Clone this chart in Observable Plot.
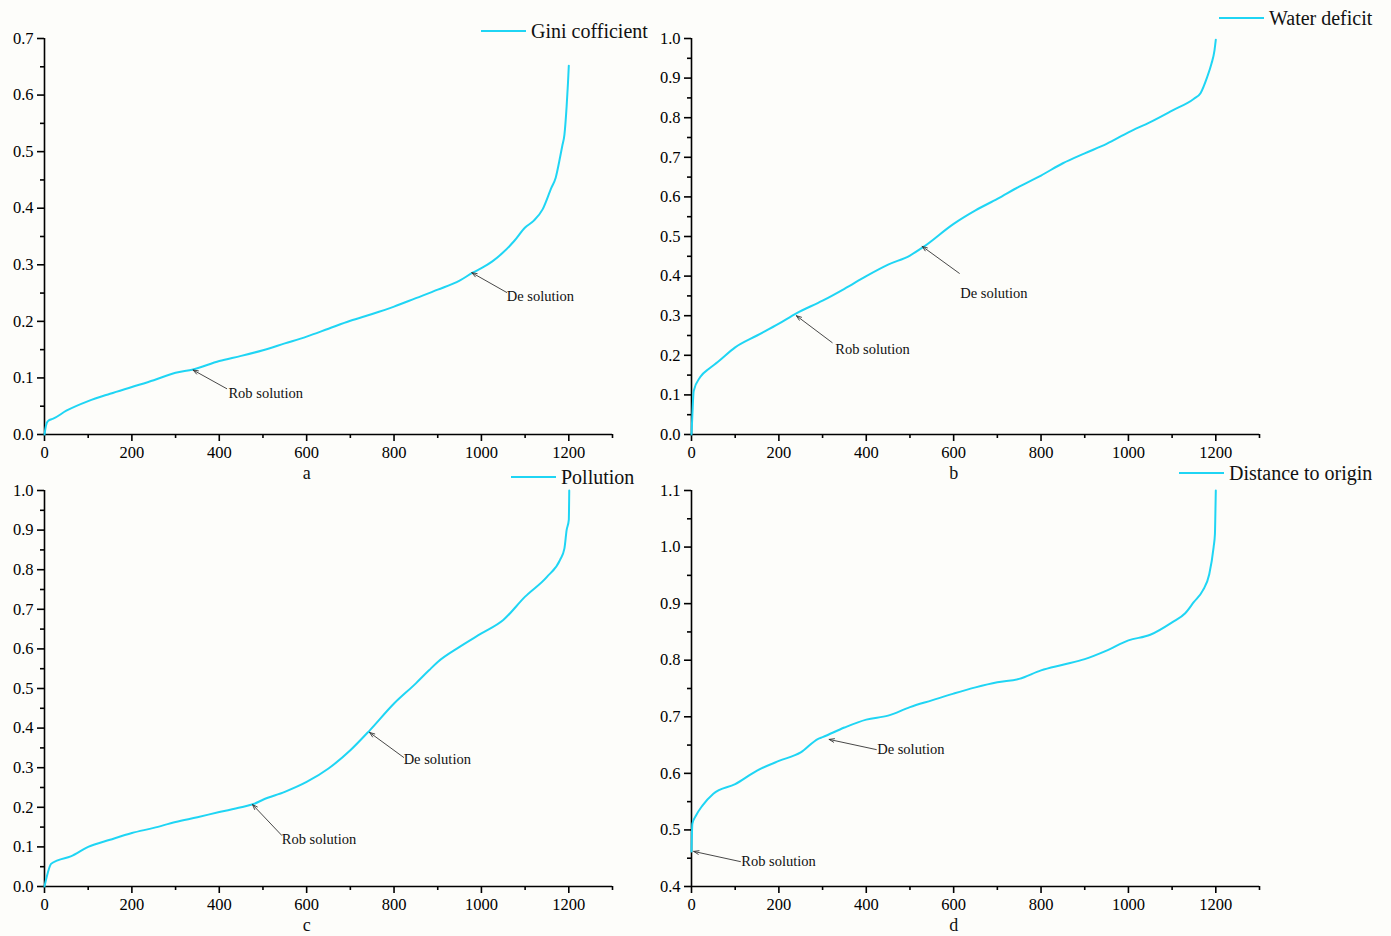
<!DOCTYPE html>
<html><head><meta charset="utf-8">
<script src="https://cdn.jsdelivr.net/npm/d3@7"></script>
<script src="https://cdn.jsdelivr.net/npm/@observablehq/plot@0.6"></script>
<style>
body{margin:0;background:#fdfdfa;width:1391px;height:936px;position:relative;overflow:hidden;font-family:"Liberation Serif","Times New Roman",serif;}
.panel{position:absolute;}
.legend{position:absolute;display:flex;align-items:center;font-size:20px;color:#111;white-space:nowrap;line-height:1;}
.legend .sw{display:inline-block;width:45px;height:2px;background:#1fd5f4;margin-right:5px;}
</style></head><body>
<script>
// ---- shared ticks ----
const xMajor = [0, 200, 400, 600, 800, 1000, 1200];
const xMinor = [100, 300, 500, 700, 900, 1100, 1300];

// ---- panel a : Gini cofficient ----
const aX = [0, 2, 5, 10, 20, 50, 100, 150, 200, 250, 300, 340, 400, 450, 500, 550, 600, 650, 700, 750, 800, 850, 900, 950, 980, 1000, 1025, 1050, 1075, 1100, 1120, 1140, 1160, 1170, 1180, 1185, 1190, 1195, 1198, 1200];
const aY = [0, 0.01, 0.02, 0.025, 0.028, 0.042, 0.059, 0.072, 0.084, 0.096, 0.109, 0.115, 0.130, 0.139, 0.149, 0.161, 0.173, 0.187, 0.201, 0.213, 0.226, 0.241, 0.256, 0.272, 0.286, 0.294, 0.306, 0.322, 0.342, 0.366, 0.378, 0.398, 0.436, 0.454, 0.49, 0.51, 0.53, 0.58, 0.62, 0.652];
const aLabels = ["Rob solution", "De solution"];
const aTipX = [340, 978], aTipY = [0.114, 0.286];
const aTailX = [417, 1058], aTailY = [0.081, 0.251];
const aTextX = [421, 1058], aTextY = [0.072, 0.244];

// ---- panel b : Water deficit ----
const bX = [0, 2, 5, 20, 40, 60, 100, 150, 200, 240, 300, 350, 400, 450, 500, 530, 600, 650, 700, 750, 800, 850, 900, 950, 1000, 1050, 1100, 1150, 1165, 1180, 1190, 1197, 1200];
const bY = [0, 0.05, 0.11, 0.145, 0.166, 0.183, 0.22, 0.25, 0.28, 0.306, 0.338, 0.368, 0.40, 0.429, 0.452, 0.473, 0.532, 0.566, 0.595, 0.626, 0.654, 0.685, 0.71, 0.734, 0.763, 0.789, 0.818, 0.848, 0.862, 0.902, 0.936, 0.97, 0.997];
const bLabels = ["Rob solution", "De solution"];
const bTipX = [240, 528], bTipY = [0.300, 0.475];
const bTailX = [322, 613], bTailY = [0.232, 0.407];
const bTextX = [329, 615], bTextY = [0.215, 0.356];

// ---- panel c : Pollution ----
const cX = [0, 5, 15, 30, 60, 100, 150, 200, 250, 300, 350, 400, 450, 480, 500, 550, 600, 650, 700, 745, 800, 850, 880, 900, 950, 1000, 1050, 1100, 1150, 1180, 1190, 1195, 1200, 1201];
const cY = [0, 0.024, 0.057, 0.066, 0.076, 0.10, 0.118, 0.135, 0.148, 0.163, 0.175, 0.188, 0.20, 0.209, 0.219, 0.239, 0.264, 0.298, 0.344, 0.395, 0.462, 0.513, 0.546, 0.567, 0.605, 0.639, 0.673, 0.732, 0.782, 0.825, 0.854, 0.90, 0.926, 1.0];
const cLabels = ["Rob solution", "De solution"];
const cTipX = [476, 744], cTipY = [0.207, 0.389];
const cTailX = [543, 822], cTailY = [0.129, 0.326];
const cTextX = [543, 822], cTextY = [0.119, 0.321];

// ---- panel d : Distance to origin ----
const dX = [0, 2, 10, 25, 50, 100, 150, 200, 250, 290, 300, 350, 400, 450, 500, 550, 600, 650, 700, 750, 800, 850, 900, 950, 1000, 1050, 1100, 1130, 1150, 1170, 1185, 1195, 1198, 1199, 1200];
const dY = [0.462, 0.511, 0.525, 0.543, 0.564, 0.581, 0.605, 0.622, 0.637, 0.661, 0.664, 0.681, 0.695, 0.702, 0.717, 0.729, 0.741, 0.752, 0.761, 0.767, 0.782, 0.792, 0.802, 0.817, 0.835, 0.845, 0.867, 0.883, 0.903, 0.923, 0.952, 1.0, 1.023, 1.059, 1.1];
const dLabels = ["Rob solution", "De solution"];
const dTipX = [5, 315], dTipY = [0.462, 0.660];
const dTailX = [112, 423], dTailY = [0.444, 0.642];
const dTextX = [114, 425], dTextY = [0.444, 0.642];

const LINE = "#1fd5f4";
const FONT = "'Liberation Serif','Times New Roman',serif";

function panel(cfg) {
  const data = cfg.xs.map((x, i) => ({x, y: cfg.ys[i]}));
  const notes = cfg.labels.map((l, i) => ({
    label: l, px: cfg.tipX[i], py: cfg.tipY[i], tx: cfg.tailX[i], ty: cfg.tailY[i], lx: cfg.textX[i], ly: cfg.textY[i]
  }));
  const [y0, y1] = cfg.yDomain;
  const yMajor = d3.range(Math.round(y0 * 10), Math.round(y1 * 10) + 1).map(v => v / 10);
  const yMinor = d3.range(Math.round(y0 * 10), Math.round(y1 * 10)).map(v => (v + 0.5) / 10);
  const svg = Plot.plot({
    width: 640, height: 480,
    marginLeft: 44, marginRight: 28, marginTop: 38, marginBottom: 46,
    x: {domain: [0, 1300]},
    y: {domain: cfg.yDomain},
    style: {fontFamily: FONT, fontSize: "16.5px", background: "transparent", overflow: "visible", color: "#000"},
    marks: [
      Plot.axisX({ticks: xMajor, tickSize: 7, tickPadding: 5, tickFormat: d => String(d), label: null, strokeWidth: 1.6, fontSize: 16.5}),
      Plot.axisX({ticks: xMinor, tickSize: 4, tickFormat: () => "", label: null, strokeWidth: 1.6}),
      Plot.axisY({ticks: yMajor, tickSize: 7, tickPadding: 4, tickFormat: d3.format(".1f"), label: null, strokeWidth: 1.6, fontSize: 16.5}),
      Plot.axisY({ticks: yMinor, tickSize: 4, tickFormat: () => "", label: null, strokeWidth: 1.6}),
      Plot.ruleX([0], {y1: y0, y2: y1, stroke: "#000", strokeWidth: 1.6}),
      Plot.ruleY([y0], {x1: 0, x2: 1300, stroke: "#000", strokeWidth: 1.6}),
      Plot.line(data, {x: "x", y: "y", stroke: LINE, strokeWidth: 2, curve: "monotone-x"}),
      Plot.arrow(notes, {x1: "tx", y1: "ty", x2: "px", y2: "py", stroke: "#333", strokeWidth: 0.9, headLength: 9, headAngle: 40}),
      Plot.text(notes, {x: "lx", y: "ly", text: "label", textAnchor: "start", fontSize: 14.5, fill: "#111"}),
      Plot.text([cfg.sub], {x: 600, frameAnchor: "bottom", dy: 44, fontSize: 18, fill: "#111"})
    ]
  });
  svg.classList.add("panel");
  svg.style.left = cfg.left + "px";
  svg.style.top = cfg.top + "px";
  document.body.appendChild(svg);

  const lg = document.createElement("div");
  lg.className = "legend";
  lg.style.left = cfg.legLeft + "px";
  lg.style.top = cfg.legTop + "px";
  lg.innerHTML = `<span class="sw"></span><span>${cfg.legend}</span>`;
  document.body.appendChild(lg);
}

panel({xs: aX, ys: aY, yDomain: [0, 0.7], labels: aLabels, tipX: aTipX, tipY: aTipY, tailX: aTailX, tailY: aTailY, textX: aTextX, textY: aTextY,
  sub: "a", left: 0, top: 0, legend: "Gini cofficient", legLeft: 481, legTop: 21});
panel({xs: bX, ys: bY, yDomain: [0, 1.0], labels: bLabels, tipX: bTipX, tipY: bTipY, tailX: bTailX, tailY: bTailY, textX: bTextX, textY: bTextY,
  sub: "b", left: 647, top: 0, legend: "Water deficit", legLeft: 1219, legTop: 8});
panel({xs: cX, ys: cY, yDomain: [0, 1.0], labels: cLabels, tipX: cTipX, tipY: cTipY, tailX: cTailX, tailY: cTailY, textX: cTextX, textY: cTextY,
  sub: "c", left: 0, top: 452, legend: "Pollution", legLeft: 511, legTop: 467});
panel({xs: dX, ys: dY, yDomain: [0.4, 1.1], labels: dLabels, tipX: dTipX, tipY: dTipY, tailX: dTailX, tailY: dTailY, textX: dTextX, textY: dTextY,
  sub: "d", left: 647, top: 452, legend: "Distance to origin", legLeft: 1179, legTop: 463});
</script>
</body></html>
